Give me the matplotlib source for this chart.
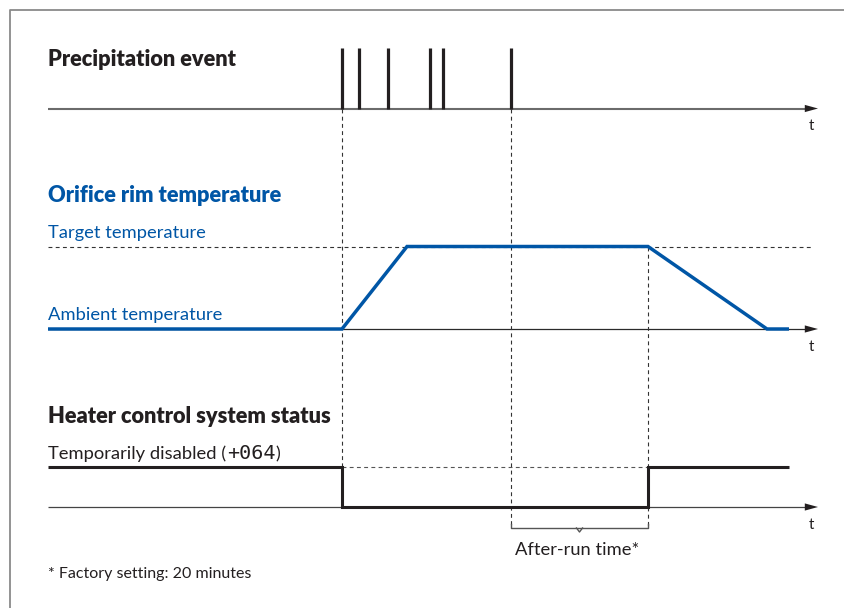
import matplotlib
matplotlib.use("Agg")
import matplotlib.pyplot as plt
from matplotlib import transforms

# time positions along the common t axis (drawing units, 1 unit = 1 px)
t_start, t_end = 48, 818

rain_times = [342, 359, 388, 430, 443, 511]

temp_times = [48, 342, 407, 648, 767, 789]
temp_level = [0, 0, 1, 1, 0, 0]          # 0 = ambient, 1 = target

heater_times = [48, 342, 342, 648, 648, 789]
heater_level = [1, 1, 0, 0, 1, 1]        # 1 = temporarily disabled

afterrun = [511, 648]

titles = ["Precipitation event", "Orifice rim temperature", "Heater control system status"]
temp_labels = ["Target temperature", "Ambient temperature"]
heater_label = ["Temporarily disabled (", "+064", ")"]
footnote = "* Factory setting: 20 minutes"
afterrun_label = "After-run time*"

# layout: baseline y and height of level 1 for each row (px, y down)
rain_y, rain_h = 108.5, 61
temp_y, temp_h = 329, 82.5
heat_y, heat_h = 507, 40
brace_y = 528

blue = "#0056a6"
ink = "#231f20"
dash = (0, (3.5, 3))
fs_title, fs_text = 15.7, 13.2

fig = plt.figure(figsize=(8.45, 6.08), dpi=100)
ax = fig.add_axes([0, 0, 1, 1])
ax.set_xlim(0, 845)
ax.set_ylim(608, 0)
ax.axis("off")


def row(base, h):
    return transforms.Affine2D().scale(1, -h).translate(0, base) + ax.transData


tr_rain = row(rain_y, rain_h)
tr_temp = row(temp_y, temp_h)
tr_heat = row(heat_y, heat_h)

# frame
ax.plot([10, 10, 845], [608, 10, 10], color="#8a8a8a", lw=1.3, solid_capstyle="butt")

# time axes with arrows
def t_axis(y, color, lw):
    ax.annotate("", xy=(t_end, y), xytext=(t_start, y),
                arrowprops=dict(arrowstyle="-|>,head_length=0.95,head_width=0.26",
                                mutation_scale=10, color=ink, lw=0, shrinkA=0, shrinkB=0))
    ax.plot([t_start, t_end - 10], [y, y], color=color, lw=lw, solid_capstyle="butt")
    ax.text(t_end - 7, y + 22, "t", fontsize=11, ha="center", va="baseline",
            color=ink, family="Lato")

t_axis(rain_y, "#6b6b6b", 1.5)
t_axis(temp_y, "#2a2a2a", 0.9)
t_axis(heat_y, "#444444", 0.9)

# dashed guides
ax.plot([rain_times[0]] * 2, [rain_y, heat_y - heat_h], color="#333", lw=0.8, ls=dash)
ax.plot([rain_times[-1]] * 2, [rain_y, brace_y], color="#333", lw=0.8, ls=dash)
ax.plot([temp_times[3]] * 2, [temp_y - temp_h, brace_y], color="#333", lw=0.8, ls=dash)
ax.plot([t_start, 812], [1, 1], transform=tr_temp, color="#333", lw=0.8, ls=dash)
ax.plot([heater_times[1], heater_times[3]], [1, 1], transform=tr_heat,
        color="#555", lw=0.8, ls=dash)

# precipitation spikes
ax.vlines(rain_times, 0, 1, transform=tr_rain, colors=ink, lw=2.3)

# orifice temperature
ax.plot(temp_times, temp_level, transform=tr_temp, color=blue, lw=2.5,
        solid_joinstyle="miter", solid_capstyle="butt")

# heater status
ax.plot(heater_times, heater_level, transform=tr_heat, color=ink, lw=2.2,
        solid_joinstyle="miter", solid_capstyle="butt")

# after-run brace
a, b = afterrun
mid = (a + b) / 2
ax.plot([a, a, b, b], [brace_y - 4, brace_y, brace_y, brace_y - 4], color="#555", lw=1)
ax.plot([mid - 3, mid, mid + 3], [brace_y, brace_y + 4, brace_y], color="#555", lw=1)
ax.text(mid - 2, 555, afterrun_label, fontsize=fs_text, ha="center", va="baseline",
        color=ink, family="Lato")

# titles and labels
ax.text(48, 66, titles[0], fontsize=fs_title, weight="heavy", color=ink, family="Lato",
        va="baseline")
ax.text(48, 202, titles[1], fontsize=fs_title, weight="heavy", color=blue, family="Lato",
        va="baseline")
ax.text(48, 423, titles[2], fontsize=fs_title, weight="heavy", color=ink, family="Lato",
        va="baseline")

ax.text(48, 238, temp_labels[0], fontsize=fs_text, color=blue, family="Lato", va="baseline")
ax.text(48, 320, temp_labels[1], fontsize=fs_text, color=blue, family="Lato", va="baseline")

fig.canvas.draw()
r = fig.canvas.get_renderer()
inv = ax.transData.inverted()
x = 48
for i, part in enumerate(heater_label):
    fam = "DejaVu Sans Mono" if i == 1 else "Lato"
    t = ax.text(x, 459, part, fontsize=fs_text if i != 1 else 14.5, color=ink, family=fam,
                va="baseline")
    bb = t.get_window_extent(r)
    x = inv.transform((bb.x1, bb.y1))[0] + (1 if i == 0 else 0)

ax.text(48, 578, footnote, fontsize=11.5, color=ink, family="Lato", va="baseline")

fig.savefig("out.png", dpi=100)
